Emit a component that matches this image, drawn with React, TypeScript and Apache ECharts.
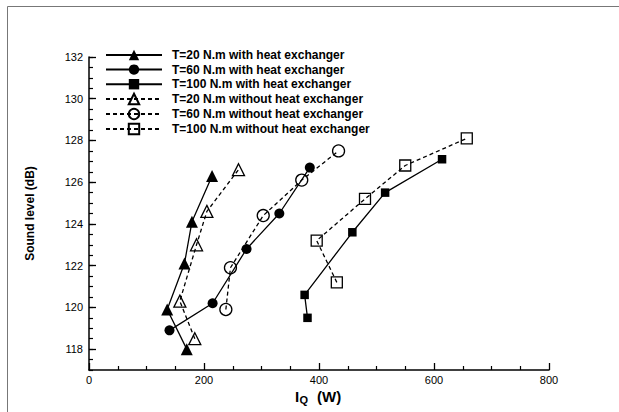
import React, { useEffect, useRef } from "react";
import * as echarts from "echarts";

const seriesNames = [
  "T=20 N.m with heat exchanger",
  "T=60 N.m with heat exchanger",
  "T=100 N.m with heat exchanger",
  "T=20 N.m without heat exchanger",
  "T=60 N.m without heat exchanger",
  "T=100 N.m without heat exchanger",
];

const x20HE = [170, 136, 166, 179, 214];
const y20HE = [118.0, 119.9, 122.1, 124.1, 126.3];
const x60HE = [140, 215, 274, 331, 384];
const y60HE = [118.9, 120.2, 122.8, 124.5, 126.7];
const x100HE = [380, 375, 458, 515, 614];
const y100HE = [119.5, 120.6, 123.6, 125.5, 127.1];
const x20 = [184, 158, 187, 205, 260];
const y20 = [118.5, 120.3, 123.0, 124.6, 126.6];
const x60 = [238, 246, 303, 370, 434];
const y60 = [119.9, 121.9, 124.4, 126.1, 127.5];
const x100 = [431, 396, 480, 550, 657];
const y100 = [121.2, 123.2, 125.2, 126.8, 128.1];

const yMajorTicks = [118, 120, 122, 124, 126, 128, 130, 132];
const FONT = "'Liberation Sans', Arial, Helvetica, sans-serif";

function mk(name: string, xs: number[], ys: number[], symbol: string, size: number, filled: boolean, dashed: boolean) {
  return {
    type: "line",
    name,
    data: xs.map((x, i) => [x, ys[i]]),
    symbol,
    symbolSize: size,
    showAllSymbol: true,
    z: 3,
    lineStyle: { color: "#000", width: 1.3, type: dashed ? [4, 3] : "solid" },
    itemStyle: filled
      ? { color: "#000", borderWidth: 0 }
      : { color: "rgba(255,255,255,0)", borderColor: "#000", borderWidth: 1.3 },
    emphasis: { disabled: true },
  };
}

export default function App() {
  const ref = useRef<HTMLDivElement>(null);
  useEffect(() => {
    if (!ref.current) return;
    const chart = echarts.init(ref.current, undefined, { renderer: "svg" });
    const axisLine = { show: true, lineStyle: { color: "#000", width: 1.5 } };
    chart.setOption({
      animation: false,
      grid: { left: 89, right: 70, top: 57, bottom: 42, containLabel: false },
      legend: {
        orient: "vertical",
        left: 100,
        top: 44,
        padding: 5,
        itemWidth: 56,
        itemHeight: 13,
        itemGap: 2.6,
        textStyle: { fontSize: 12, fontWeight: "bold", color: "#000", fontFamily: FONT, padding: [0, 0, 0, 5] },
        data: seriesNames,
      },
      xAxis: {
        type: "value",
        min: 0,
        max: 800,
        interval: 200,
        axisLine,
        axisTick: { show: true, inside: true, length: 7, lineStyle: { color: "#000", width: 1.3 } },
        minorTick: { show: true, splitNumber: 4, length: 4, lineStyle: { color: "#000", width: 1.2 } },
        axisLabel: { fontSize: 11, color: "#000", margin: 4, fontFamily: FONT },
        splitLine: { show: false },
      },
      yAxis: [
        {
          type: "value",
          min: 117,
          max: 132,
          interval: 0.5,
          axisLine,
          axisTick: { show: true, inside: true, length: 4, lineStyle: { color: "#000", width: 1.2 } },
          axisLabel: { show: false },
          splitLine: { show: false },
        },
        {
          type: "value",
          min: 117,
          max: 132,
          position: "left",
          offset: 0,
          axisLine: { show: false },
          axisTick: { show: true, inside: true, length: 7, customValues: yMajorTicks, lineStyle: { color: "#000", width: 1.3 } },
          axisLabel: { show: true, customValues: yMajorTicks, fontSize: 11, color: "#000", margin: 6, fontFamily: FONT },
          splitLine: { show: false },
        },
      ],
      graphic: [
        { type: "rect", shape: { x: 7.5, y: 6.5, width: 800, height: 800 }, style: { fill: "none", stroke: "#777", lineWidth: 1 }, silent: true },
        { type: "text", x: 30, y: 213.5, rotation: Math.PI / 2, style: { text: "Sound level (dB)", font: `bold 12px ${FONT}`, fill: "#000", align: "center", verticalAlign: "middle" } },
        { type: "text", x: 295, y: 396.3, style: { text: "I", font: `bold 15px ${FONT}`, fill: "#000", align: "left", verticalAlign: "middle" } },
        { type: "text", x: 299.5, y: 399.5, style: { text: "Q", font: `bold 11px ${FONT}`, fill: "#000", align: "left", verticalAlign: "middle" } },
        { type: "text", x: 317, y: 396.3, style: { text: "(W)", font: `bold 15px ${FONT}`, fill: "#000", align: "left", verticalAlign: "middle" } },
      ],
      series: [
        mk(seriesNames[0], x20HE, y20HE, "triangle", 12, true, false),
        mk(seriesNames[1], x60HE, y60HE, "circle", 10, true, false),
        mk(seriesNames[2], x100HE, y100HE, "rect", 8.5, true, false),
        mk(seriesNames[3], x20, y20, "triangle", 12, false, true),
        mk(seriesNames[4], x60, y60, "circle", 12, false, true),
        mk(seriesNames[5], x100, y100, "rect", 11, false, true),
      ],
    });
    return () => chart.dispose();
  }, []);
  return <div ref={ref} style={{ position: "fixed", left: 0, top: 0, width: 619, height: 412, background: "#fff" }} />;
}
